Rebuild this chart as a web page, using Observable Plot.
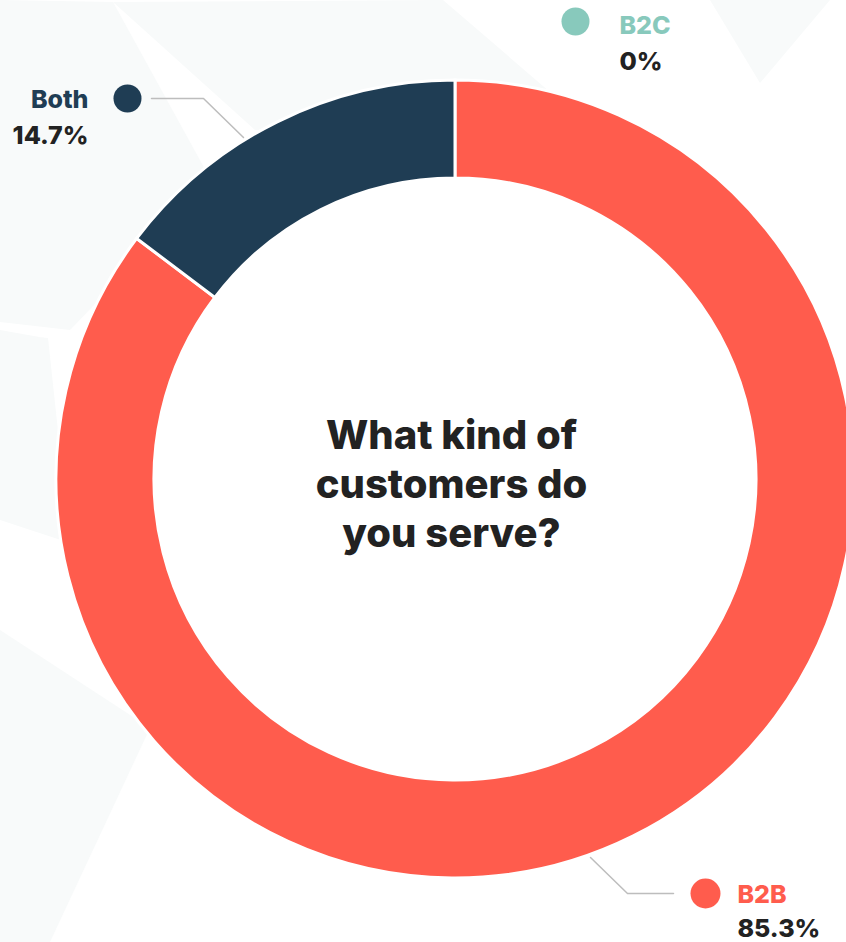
<!DOCTYPE html>
<html>
<head>
<meta charset="utf-8">
<script src="https://cdn.jsdelivr.net/npm/d3@7"></script>
<script src="https://cdn.jsdelivr.net/npm/@observablehq/plot@0.6"></script>
<style>
  html, body { margin: 0; padding: 0; background: #ffffff; }
  #chart { width: 846px; height: 942px; overflow: hidden; }
</style>
</head>
<body>
<div id="chart"></div>
<script>
// ---- data ----
const categories = ["B2B", "Both", "B2C"];
const shares = [85.3, 14.7, 0];
const shareLabels = ["85.3%", "14.7%", "0%"];
const title = ["What kind of", "customers do", "you serve?"];

// ---- styles / layout (not data) ----
const colors = {B2B: "#ff5c4d", Both: "#1f3d54", B2C: "#88c9bc"};
const center = {x: 455, y: 479};
const radii = {inner: 301, outer: 399};
const labelLayout = {
  B2B:  {dot: [705, 893], r: 15, text: [737, 902], anchor: "start", value: [737, 936],
         leader: [[590, 857], [627, 893], [673, 893]]},
  Both: {dot: [127, 98], r: 14, text: [88, 107], anchor: "end", value: [88, 143],
         leader: [[151, 98], [203, 98], [243, 137]]},
  B2C:  {dot: [575, 21], r: 14, text: [619, 33], anchor: "start", value: [619, 69],
         leader: null}
};
const bgShapes = [
  [[0,0],[113,2],[212,182],[70,330],[0,322]],
  [[113,2],[443,0],[600,135],[255,130]],
  [[0,334],[48,338],[70,543],[0,520]],
  [[0,630],[150,728],[50,942],[0,942]],
  [[710,0],[830,0],[760,83]],
  [[0,330],[45,338],[0,336]]
];

const rows = categories.map((c, i) => ({category: c, share: shares[i], label: shareLabels[i]}));
const startRows = rows.filter(d => labelLayout[d.category].anchor === "start");
const endRows = rows.filter(d => labelLayout[d.category].anchor === "end");

const leaderRows = rows.flatMap(d => {
  const L = labelLayout[d.category].leader;
  return L ? L.map(p => ({category: d.category, x: p[0], y: p[1]})) : [];
});

function background(index, scales) {
  const g = d3.create("svg:g");
  for (const poly of bgShapes) {
    g.append("path")
      .attr("d", "M" + poly.map(p => [scales.x(p[0]), scales.y(p[1])].join(",")).join("L") + "Z")
      .attr("fill", "#f8fafa");
  }
  return g.node();
}

function ring(index, scales) {
  const cx = scales.x(center.x), cy = scales.y(center.y);
  const pie = d3.pie().sort(null).value(d => d.share)(rows);
  const arc = d3.arc().innerRadius(radii.inner).outerRadius(radii.outer);
  const g = d3.create("svg:g").attr("transform", `translate(${cx},${cy})`);
  g.append("circle").attr("r", radii.inner).attr("fill", "#ffffff");
  for (const p of pie) {
    if (p.data.share <= 0) continue;
    g.append("path")
      .attr("d", arc(p))
      .attr("fill", colors[p.data.category])
      .attr("stroke", "#ffffff")
      .attr("stroke-width", 3)
      .attr("stroke-linejoin", "miter");
  }
  return g.node();
}

const font = "Inter, 'Noto Sans', sans-serif";

function labelMarks(data, anchor) {
  return [
    Plot.text(data, {
      x: d => labelLayout[d.category].text[0],
      y: d => labelLayout[d.category].text[1],
      text: "category",
      textAnchor: anchor,
      lineAnchor: "bottom",
      fill: d => colors[d.category],
      fontSize: 25,
      fontWeight: 800,
      letterSpacing: 0.3
    }),
    Plot.text(data, {
      x: d => labelLayout[d.category].value[0],
      y: d => labelLayout[d.category].value[1],
      text: "label",
      textAnchor: anchor,
      lineAnchor: "bottom",
      fill: "#222222",
      fontSize: 25,
      fontWeight: 800,
      letterSpacing: 0.3
    })
  ];
}

const plot = Plot.plot({
  width: 846,
  height: 942,
  margin: 0,
  x: {domain: [0, 846], range: [0, 846], axis: null},
  y: {domain: [0, 942], range: [0, 942], axis: null},
  r: {type: "identity"},
  color: {type: "identity"},
  style: {background: "transparent", fontFamily: font, overflow: "visible"},
  marks: [
    background,
    ring,
    Plot.line(leaderRows, {x: "x", y: "y", z: "category", stroke: "#bdbdbd", strokeWidth: 1.5}),
    Plot.dot(rows, {
      x: d => labelLayout[d.category].dot[0],
      y: d => labelLayout[d.category].dot[1],
      r: d => labelLayout[d.category].r,
      fill: d => colors[d.category],
      stroke: null
    }),
    ...labelMarks(startRows, "start"),
    ...labelMarks(endRows, "end"),
    Plot.text(title, {
      x: () => 451,
      y: (d, i) => 448 + i * 49,
      text: d => d,
      textAnchor: "middle",
      lineAnchor: "bottom",
      fill: "#222222",
      fontSize: 40,
      fontWeight: 800,
      letterSpacing: 0.8
    })
  ]
});

document.getElementById("chart").appendChild(plot);
</script>
</body>
</html>
